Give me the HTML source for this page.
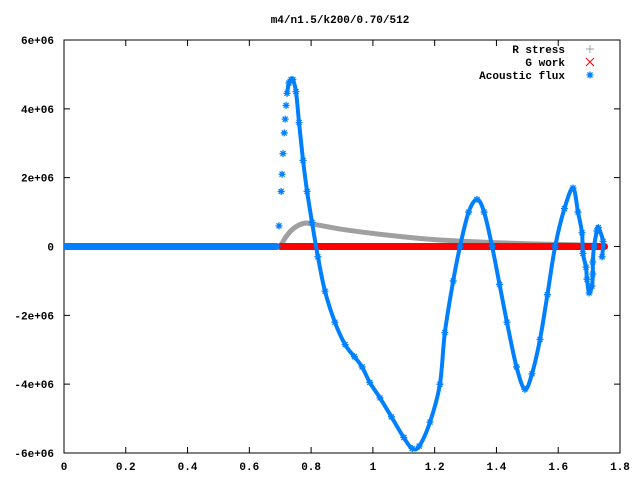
<!DOCTYPE html>
<html><head><meta charset="utf-8"><style>
body{margin:0;background:#fff}
svg text{font-family:"Liberation Mono",monospace;font-size:11px;font-weight:bold;fill:#000}
</style></head><body>
<svg width="640" height="480" xmlns="http://www.w3.org/2000/svg">
<rect width="640" height="480" fill="#fff"/>
<text x="340" y="23" text-anchor="middle">m4/n1.5/k200/0.70/512</text>
<g id="axes"></g>
<g id="plot"></g>
<g id="legend"></g>
</svg>
<script>
const xTicks=[0,0.2,0.4,0.6,0.8,1,1.2,1.4,1.6,1.8];
const xTickLabels=["0","0.2","0.4","0.6","0.8","1","1.2","1.4","1.6","1.8"];
const yTicks=[-6e6,-4e6,-2e6,0,2e6,4e6,6e6];
const yTickLabels=["-6e+06","-4e+06","-2e+06","0","2e+06","4e+06","6e+06"];
const fluxX=[0,0.1,0.2,0.3,0.4,0.5,0.6,0.69,0.696,0.703,0.706,0.709,0.713,0.716,0.719,0.722,0.728,0.735,0.741,0.751,0.761,0.774,0.787,0.803,0.822,0.845,0.877,0.91,0.94,0.965,0.99,1.023,1.06,1.1,1.127,1.15,1.185,1.217,1.233,1.26,1.282,1.31,1.337,1.36,1.386,1.41,1.434,1.465,1.492,1.515,1.541,1.565,1.59,1.62,1.648,1.664,1.677,1.68,1.69,1.693,1.70,1.709,1.712,1.712,1.716,1.725,1.73,1.745,1.742];
const fluxY=[0,0,0,0,0,0,0,0,0.6,1.6,2.1,2.7,3.3,3.7,4.1,4.45,4.75,4.85,4.85,4.5,3.6,2.5,1.6,0.7,-0.3,-1.3,-2.2,-2.85,-3.2,-3.5,-3.95,-4.4,-4.95,-5.55,-5.87,-5.8,-5.1,-4.0,-2.5,-1.0,0,1.0,1.37,1.0,0,-1.1,-2.2,-3.5,-4.15,-3.7,-2.7,-1.4,0,1.1,1.7,1.0,0.4,-0.2,-0.6,-0.95,-1.35,-1.15,-0.8,-0.45,0,0.45,0.55,0.15,-0.3];
const stressX=[0.70,0.72,0.74,0.76,0.78,0.80,0.85,0.9,1.0,1.1,1.2,1.3,1.4,1.5,1.6,1.7,1.75];
const stressY=[0,0.3,0.5,0.62,0.68,0.66,0.58,0.5,0.38,0.28,0.2,0.15,0.11,0.08,0.06,0.04,0.03];
const workX=[0.70,0.8,0.9,1.0,1.1,1.2,1.3,1.4,1.5,1.6,1.7,1.75];
const workY=[0,0,0,0,0,0,0,0,0,0,0,0];

const L=64,R=620,T=40,B=453;
const sx=v=>L+(v-0)/(1.8-0)*(R-L);
const sy=v=>B-(v+6e6)/(12e6)*(B-T);
const NS="http://www.w3.org/2000/svg";
function mk(tag,parent,attrs){const e=document.createElementNS(NS,tag);for(const k in attrs)e.setAttribute(k,attrs[k]);parent.appendChild(e);return e;}
const axes=document.getElementById('axes'),plot=document.getElementById('plot'),leg=document.getElementById('legend');
const frame=mk('rect',axes,{x:L,y:T,width:R-L,height:B-T,fill:'none',stroke:'#000','stroke-width':1});


xTicks.forEach((v,i)=>{const x=sx(v);
 const t=mk('path',axes,{d:`M${x},${B}v-6M${x},${T}v6`,stroke:'#000'});
 
 
 const lb=mk('text',axes,{x:x,y:470,'text-anchor':'middle'});lb.textContent=xTickLabels[i];
 
 });
yTicks.forEach((v,i)=>{const y=sy(v);
 const t=mk('path',axes,{d:`M${L},${y}h6M${R},${y}h-6`,stroke:'#000'});
 
 
 const lb=mk('text',axes,{x:54,y:y+4,'text-anchor':'end'});lb.textContent=yTickLabels[i];
 
 });
function smoothPath(xs,ys){const P=xs.map((x,i)=>[sx(x),sy(ys[i]*1e6)]);
 let d='M'+P[0][0]+','+P[0][1];
 for(let i=0;i<P.length-1;i++){const p0=P[Math.max(0,i-1)],p1=P[i],p2=P[i+1],p3=P[Math.min(P.length-1,i+2)];
  const c1=[p1[0]+(p2[0]-p0[0])/6,p1[1]+(p2[1]-p0[1])/6],c2=[p2[0]-(p3[0]-p1[0])/6,p2[1]-(p3[1]-p1[1])/6];
  d+=`C${c1[0]},${c1[1]} ${c2[0]},${c2[1]} ${p2[0]},${p2[1]}`;}
 return d;}
function line(xs,ys,col,w,name,start){const a=xs.slice(start||0),b=ys.slice(start||0);
 const p=mk('path',plot,{d:smoothPath(a,b),fill:'none',stroke:col,'stroke-width':w,'stroke-linejoin':'round','stroke-linecap':'round'});
 
 }
function star(g,x,y,col){const s=3.5;mk('path',g,{d:`M${x-s},${y}h${2*s}M${x},${y-s}v${2*s}M${x-s+1},${y-s+1}l${2*s-2},${2*s-2}M${x-s+1},${y+s-1}l${2*s-2},${-2*s+2}`,stroke:col,'stroke-width':1.3});}
line(stressX,stressY,'#a0a0a0',5,'r-stress-series');
line(workX,workY,'#ff0000',7,'g-work-series');
// zero segment of flux drawn straight
const z=mk('path',plot,{d:`M${sx(fluxX[0])},${sy(0)}H${sx(fluxX[7])}`,stroke:'#0080ff','stroke-width':7});


line(fluxX,fluxY,'#0080ff',4,'acoustic-flux-series',15);
const fg=mk('g',plot,{});


fluxX.forEach((x,i)=>{if(i>=7)star(fg,sx(x),sy(fluxY[i]*1e6),'#0080ff');});
const items=[["R stress","#a0a0a0","plus"],["G work","#ff0000","x"],["Acoustic flux","#0080ff","star"]];
items.forEach((it,i)=>{const y=49+i*13;
 const t=mk('text',leg,{x:565,y:y+4,'text-anchor':'end'});t.textContent=it[0];
 
 
 const x=590;
 if(it[2]=='plus')mk('path',leg,{d:`M${x-4},${y}h8M${x},${y-4}v8`,stroke:it[1]});
 else if(it[2]=='x')mk('path',leg,{d:`M${x-4},${y-4}l8,8M${x-4},${y+4}l8,-8`,stroke:it[1]});
 else star(leg,x,y,it[1]);});
</script>
</body></html>
